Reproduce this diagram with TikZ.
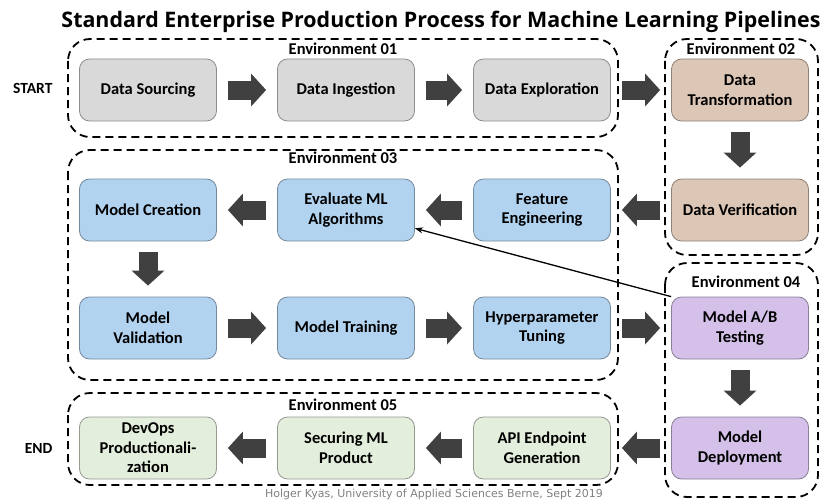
\documentclass[tikz,border=0pt]{standalone}
\usepackage{fontspec}
\setmainfont{Carlito}
\newfontfamily\footfont{DejaVu Sans}
\newfontfamily\titlefont{Open Sans}
\usetikzlibrary{arrows.meta}

% stage colours
\definecolor{srcgray}{HTML}{D9D9D9}
\definecolor{prepbrown}{HTML}{DCC6B6}
\definecolor{modelblue}{HTML}{B2D3F0}
\definecolor{testpurple}{HTML}{D4C0E8}
\definecolor{prodgreen}{HTML}{E3EEDC}
\definecolor{arrowgray}{HTML}{404040}

\tikzset{
  stage/.style={draw=#1!65!black, fill=#1, line width=0.8pt, rounded corners=10pt,
    minimum width=137pt, minimum height=62pt, align=center,
    font=\fontsize{16.5}{19.5}\selectfont\bfseries},
  envbox/.style={draw=black, line width=1.8pt, dash pattern=on 8pt off 5pt, rounded corners=22pt},
  envlabel/.style={font=\fontsize{16.5}{19}\selectfont\bfseries},
  endlabel/.style={anchor=east, font=\fontsize{15.5}{17}\selectfont\bfseries},
  flow/.style={draw=arrowgray, line width=19pt, -{Triangle[length=15pt,width=32pt]},
    shorten <=11pt, shorten >=11pt},
}

\begin{document}
\begin{tikzpicture}[x=1pt, y=-1pt]

\useasboundingbox (0,0) rectangle (824,503);

% title
\path
(441,22) node (title) [font=\titlefont\fontsize{21.4}{24}\selectfont\bfseries]
  {Standard Enterprise Production Process for Machine Learning Pipelines};

%% dashed environments
\draw[envbox] (68,39) rectangle (618,137);
\draw[envbox] (665,39) rectangle (818,255);
\draw[envbox] (68,150) rectangle (618,380);
\draw[envbox] (665,263) rectangle (818,497);
\draw[envbox] (68,393) rectangle (618,485);

\path
(343,49) node (env1) [envlabel]{Environment 01}
(741,49) node (env2) [envlabel]{Environment 02}
(343,158) node (env3) [envlabel]{Environment 03}
(746,282) node (env4) [envlabel]{Environment 04}
(343,405) node (env5) [envlabel]{Environment 05};

%% stages, row by row
\path
(148,90) node (sourcing) [stage=srcgray]{Data Sourcing}
(346,90) node (ingestion) [stage=srcgray]{Data Ingestion}
(542,90) node (exploration) [stage=srcgray]{Data Exploration}
(740,90) node (transform) [stage=prepbrown]{Data\\Transformation}
(740,210) node (verify) [stage=prepbrown]{Data Verification}
(542,210) node (features) [stage=modelblue]{Feature\\Engineering}
(346,210) node (evalml) [stage=modelblue]{Evaluate ML\\Algorithms}
(148,210) node (creation) [stage=modelblue]{Model Creation}
(148,328) node (validation) [stage=modelblue]{Model\\Validation}
(346,328) node (training) [stage=modelblue]{Model Training}
(542,328) node (tuning) [stage=modelblue]{Hyperparameter\\Tuning}
(740,328) node (abtest) [stage=testpurple]{Model A/B\\Testing}
(740,448) node (deploy) [stage=testpurple]{Model\\Deployment}
(542,448) node (apigen) [stage=prodgreen]{API Endpoint\\Generation}
(346,448) node (securing) [stage=prodgreen]{Securing ML\\Product}
(148,448) node (devops) [stage=prodgreen]{DevOps\\Productionali-\\zation};

\path
(56,88) node (start) [endlabel]{START}
(56,448) node (end) [endlabel]{END};

%% block arrows along the pipeline
\foreach \from/\to in {sourcing/ingestion, ingestion/exploration, exploration/transform,
  transform/verify, verify/features, features/evalml, evalml/creation,
  creation/validation, validation/training, training/tuning, tuning/abtest,
  abtest/deploy, deploy/apigen, apigen/securing, securing/devops}
  \draw[flow] (\from) -- (\to);

% feedback from testing back to algorithm evaluation
\draw[black, line width=1.3pt, -{Stealth[length=8pt,width=6pt]}] (abtest.north west) -- (evalml);

\path
(434,494) node (credit) [font=\footfont\fontsize{11}{12}\selectfont, text=black!50]
  {Holger Kyas, University of Applied Sciences Berne, Sept 2019};

\end{tikzpicture}
\end{document}
